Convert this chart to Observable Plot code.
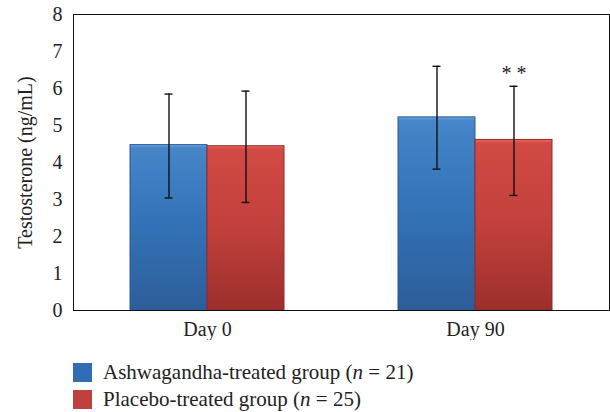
<!DOCTYPE html>
<html>
<head>
<meta charset="utf-8">
<script src="https://cdn.jsdelivr.net/npm/d3@7"></script>
<script src="https://cdn.jsdelivr.net/npm/@observablehq/plot@0.6"></script>
<style>
  body { margin: 0; background: #fff; font-family: "Liberation Serif", serif; }
  #legend { margin-left: 73px; margin-top: 19px; font-size: 21px; color: #222; }
  .row { display: flex; align-items: center; height: 27px; }
  .sw { width: 19px; height: 19px; margin-right: 11px; }
</style>
</head>
<body>
<svg width="0" height="0" style="position:absolute">
  <defs>
    <linearGradient id="gBlue" x1="0" y1="0" x2="0" y2="1">
      <stop offset="0" stop-color="#6aa6e0"/>
      <stop offset="0.02" stop-color="#4585c8"/>
      <stop offset="0.5" stop-color="#3371b6"/>
      <stop offset="1" stop-color="#2c5e99"/>
    </linearGradient>
    <linearGradient id="gRed" x1="0" y1="0" x2="0" y2="1">
      <stop offset="0" stop-color="#ea6a62"/>
      <stop offset="0.02" stop-color="#d24a44"/>
      <stop offset="0.5" stop-color="#c2403c"/>
      <stop offset="1" stop-color="#9c2f2c"/>
    </linearGradient>
  </defs>
</svg>
<div id="chart"></div>
<div id="legend"></div>
<script>
const days = ["Day 0", "Day 90"];
const groups = ["Ashwagandha", "Placebo"];
const legendLabels = ["Ashwagandha-treated group (<i>n</i>&nbsp;= 21)", "Placebo-treated group (<i>n</i>&nbsp;= 25)"];
const ashMeans = [4.47, 5.22];
const ashLow = [3.04, 3.82];
const ashHigh = [5.85, 6.60];
const plaMeans = [4.44, 4.61];
const plaLow = [2.92, 3.11];
const plaHigh = [5.93, 6.06];
const yTicks = [0, 1, 2, 3, 4, 5, 6, 7, 8];
const sigDay = "Day 90";
const sigGroup = "Placebo";
const sigLabel = "* *";
const sigY = 6.4;

const rows = [];
days.forEach((d, i) => {
  rows.push({day: d, group: groups[0], mean: ashMeans[i], lo: ashLow[i], hi: ashHigh[i]});
  rows.push({day: d, group: groups[1], mean: plaMeans[i], lo: plaLow[i], hi: plaHigh[i]});
});
const sig = [{day: sigDay, group: sigGroup, y: sigY, text: sigLabel}];

const chart = Plot.plot({
  width: 610, height: 340,
  marginLeft: 73, marginRight: 1, marginTop: 14, marginBottom: 30,
  style: {fontFamily: "Liberation Serif", fontSize: "20px", color: "#222", background: "#fff"},
  fx: {domain: days, padding: 0, label: null},
  x: {domain: groups, paddingInner: 0, paddingOuter: 0.74, axis: null},
  y: {domain: [0, 8], ticks: yTicks},
  marks: [
    Plot.barY(rows, {filter: d => d.group === groups[0], fx: "day", x: "group", y: "mean", fill: "url(#gBlue)", stroke: "#2a5a92", strokeWidth: 1}),
    Plot.barY(rows, {filter: d => d.group === groups[1], fx: "day", x: "group", y: "mean", fill: "url(#gRed)", stroke: "#8f2b28", strokeWidth: 1}),
    Plot.ruleX(rows, {fx: "day", x: "group", y1: "lo", y2: "hi", stroke: "#111", strokeWidth: 1.4}),
    Plot.tickY(rows, {fx: "day", x: "group", y: "lo", insetLeft: 34.5, insetRight: 34.5, stroke: "#111", strokeWidth: 1.4}),
    Plot.tickY(rows, {fx: "day", x: "group", y: "hi", insetLeft: 34.5, insetRight: 34.5, stroke: "#111", strokeWidth: 1.4}),
    Plot.text(sig, {fx: "day", x: "group", y: "y", text: "text", fontSize: 20, fill: "#222"}),
    Plot.axisY({ticks: yTicks, tickSize: 0, tickPadding: 11, fontSize: 20, label: "Testosterone (ng/mL)", labelAnchor: "center", labelArrow: "none", labelOffset: 56}),
    Plot.axisFx({anchor: "bottom", tickSize: 0, tickPadding: 11, fontSize: 20, label: null}),
    Plot.frame({facet: "super", stroke: "#111"})
  ]
});
document.getElementById("chart").appendChild(chart);

const swatchColors = ["#2f6db5", "#c0403d"];
const legend = document.getElementById("legend");
legendLabels.forEach((t, i) => {
  const r = document.createElement("div");
  r.className = "row";
  r.innerHTML = `<div class="sw" style="background:${swatchColors[i]}"></div><span>${t}</span>`;
  legend.appendChild(r);
});
</script>
</body>
</html>
